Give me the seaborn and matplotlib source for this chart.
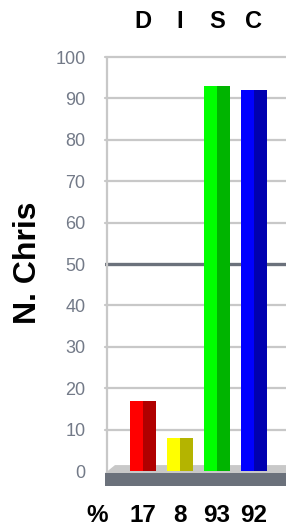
import numpy as np
import pandas as pd
import matplotlib.pyplot as plt
import seaborn as sns
from matplotlib.patches import Polygon, Rectangle

# Datos
letras = ['D', 'I', 'S', 'C']
valores = [17, 8, 93, 92]
color_claro = ['#ff0000', '#ffff00', '#00ff00', '#0000ff']
color_oscuro = ['#b00000', '#b4b400', '#00b400', '#0000b0']
ticks_y = [0, 10, 20, 30, 40, 50, 60, 70, 80, 90, 100]

sns.set_style('white')
plt.rcParams['font.family'] = ['Liberation Sans', 'DejaVu Sans']

fig = plt.figure(figsize=(2.86, 5.27), dpi=100)
ax = fig.add_axes([105 / 286, 1 - 486 / 527, 181 / 286, 429 / 527])

df = pd.DataFrame({'letra': letras, 'valor': valores})

# Lineas de guia
for t in ticks_y[1:]:
    if t == 50:
        ax.axhline(t, color='#6b717b', lw=2.4, zorder=1)
    else:
        ax.axhline(t, color='#c8c8c8', lw=1.6, zorder=1, clip_on=False)
ax.plot([-0.985, -0.985], [-0.5, 100], color='#c8c8c8', lw=1.6, zorder=1, clip_on=False)

# Piso gris
ax.add_patch(Polygon([[-1.027, -0.5], [-0.757, 1.45], [3.9, 1.45], [3.9, -0.5]],
                     closed=True, facecolor='#c8c8c8', edgecolor='none', zorder=2))
ax.add_patch(Rectangle((-1.027, -3.6), 5, 3.1, facecolor='#6b717b', edgecolor='none', zorder=2))

# Barras
sns.barplot(data=df, x='letra', y='valor', hue='letra', palette=color_claro,
            width=0.7, legend=False, ax=ax, zorder=3, saturation=1,
            linewidth=0, edgecolor='none')
x = np.arange(len(letras))
ax.bar(x + 0.175, valores, width=0.35, color=color_oscuro, zorder=4,
       linewidth=0, edgecolor='none')

ax.set_xlim(-1.027, 3.878)
ax.set_ylim(-3.6, 100)
ax.set_xticks([])
ax.set_yticks(ticks_y)
ax.set_yticklabels([str(t) for t in ticks_y], fontsize=13, color='#737a88')
ax.tick_params(axis='y', length=0, pad=14)
ax.set_xlabel('')
ax.set_ylabel('')
for s in ax.spines.values():
    s.set_visible(False)

# Letras arriba y porcentajes abajo
for i, (l, v) in enumerate(zip(letras, valores)):
    ax.text(i, 1.082, l, transform=ax.get_xaxis_transform(), ha='center', va='center',
            fontsize=17, fontweight='bold', color='black')
    ax.text(i, -0.068, str(v), transform=ax.get_xaxis_transform(), ha='center', va='center',
            fontsize=17.5, fontweight='bold', color='black')
ax.text(-1.25, -0.068, '%', transform=ax.get_xaxis_transform(), ha='center', va='center',
        fontsize=17.5, fontweight='bold', color='black')
fig.text(28 / 286, 1 - 263 / 527, 'N. Chris', rotation=90, ha='center', va='center',
         fontsize=23, fontweight='bold', color='black')

fig.savefig('out.png', dpi=100)
